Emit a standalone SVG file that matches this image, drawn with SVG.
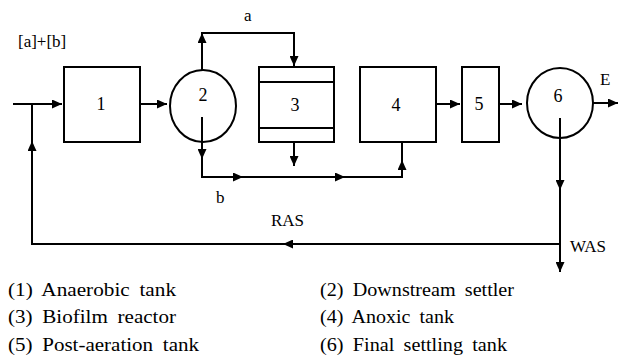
<svg xmlns="http://www.w3.org/2000/svg" width="624" height="359" viewBox="0 0 624 359">
<defs>
<marker id="ah" markerWidth="10" markerHeight="9" refX="10" refY="4.5" orient="auto" markerUnits="userSpaceOnUse"><path d="M0,0 L10,4.5 L0,9 Z" fill="#000"/></marker>
<style>
.n{fill:#fff;stroke:#000;stroke-width:2}
.c path,.c line{fill:none;stroke:#000;stroke-width:2}
.t{font-family:"Liberation Serif","Times New Roman",serif;fill:#000}
.num{font-size:18px;text-anchor:middle}
.lbl{font-size:17px}
.leg{font-size:19px;word-spacing:4px}
</style>
</defs>
<rect width="624" height="359" fill="#fff"/>
<g id="connectors" class="c">
<line x1="13" y1="104" x2="62" y2="104" marker-end="url(#ah)"/>
<line x1="140" y1="104" x2="167" y2="104" marker-end="url(#ah)"/>
<path d="M202,70 V33 H294 V66"/>
<line x1="294" y1="33" x2="294" y2="66" marker-end="url(#ah)"/>
<line x1="202" y1="44" x2="202" y2="33" marker-end="url(#ah)"/>
<path d="M202,117 V177 H402 V142"/>
<line x1="202" y1="140" x2="202" y2="159" marker-end="url(#ah)"/>
<line x1="220" y1="177" x2="243" y2="177" marker-end="url(#ah)"/>
<line x1="294" y1="142" x2="294" y2="166" marker-end="url(#ah)"/>
<line x1="320" y1="177" x2="345" y2="177" marker-end="url(#ah)"/>
<line x1="402" y1="177" x2="402" y2="160" marker-end="url(#ah)"/>
<line x1="436" y1="104" x2="460" y2="104" marker-end="url(#ah)"/>
<line x1="499" y1="104" x2="522" y2="104" marker-end="url(#ah)"/>
<line x1="593" y1="103" x2="618" y2="103" marker-end="url(#ah)"/>
<path d="M560,118 V262"/>
<line x1="560" y1="170" x2="560" y2="190" marker-end="url(#ah)"/>
<line x1="560" y1="244" x2="560" y2="272" marker-end="url(#ah)"/>
<path d="M560,244 H32 V104"/>
<line x1="300" y1="244" x2="283" y2="244" marker-end="url(#ah)"/>
<line x1="32" y1="160" x2="32" y2="141" marker-end="url(#ah)"/>
</g>
<g id="node1"><rect class="n" x="64" y="67" width="76" height="75"/><text class="t num" x="101" y="110">1</text></g>
<g id="node2"><ellipse class="n" cx="203" cy="106" rx="33" ry="36"/><line x1="202" y1="117" x2="202" y2="142" stroke="#000" stroke-width="2"/><text class="t num" x="203" y="101">2</text></g>
<g id="node3"><rect class="n" x="259" y="67" width="75" height="75"/><line x1="259" y1="82" x2="334" y2="82" stroke="#000" stroke-width="2"/><line x1="259" y1="128" x2="334" y2="128" stroke="#000" stroke-width="2"/><text class="t num" x="295" y="111">3</text></g>
<g id="node4"><rect class="n" x="360" y="67" width="76" height="75"/><text class="t num" x="396" y="111">4</text></g>
<g id="node5"><rect class="n" x="462" y="67" width="37" height="75"/><text class="t num" x="479" y="110">5</text></g>
<g id="node6"><ellipse class="n" cx="560" cy="103" rx="33" ry="35"/><line x1="560" y1="118" x2="560" y2="140" stroke="#000" stroke-width="2"/><text class="t num" x="558" y="102">6</text></g>
<g id="labels">
<text class="t lbl" x="18" y="47">[a]+[b]</text>
<text class="t lbl" x="244" y="21">a</text>
<text class="t lbl" x="216" y="203">b</text>
<text class="t lbl" x="271" y="226">RAS</text>
<text class="t lbl" x="600" y="85">E</text>
<text class="t lbl" x="570" y="252">WAS</text>
</g>
<g id="legend">
<text class="t leg" x="8" y="296" textLength="168" lengthAdjust="spacingAndGlyphs">(1) Anaerobic tank</text>
<text class="t leg" x="8" y="323" textLength="168" lengthAdjust="spacingAndGlyphs">(3) Biofilm reactor</text>
<text class="t leg" x="8" y="351" textLength="191" lengthAdjust="spacingAndGlyphs">(5) Post-aeration tank</text>
<text class="t leg" x="320" y="296" textLength="194" lengthAdjust="spacingAndGlyphs">(2) Downstream settler</text>
<text class="t leg" x="320" y="323" textLength="134" lengthAdjust="spacingAndGlyphs">(4) Anoxic tank</text>
<text class="t leg" x="320" y="351" textLength="187" lengthAdjust="spacingAndGlyphs">(6) Final settling tank</text>
</g>
</svg>
